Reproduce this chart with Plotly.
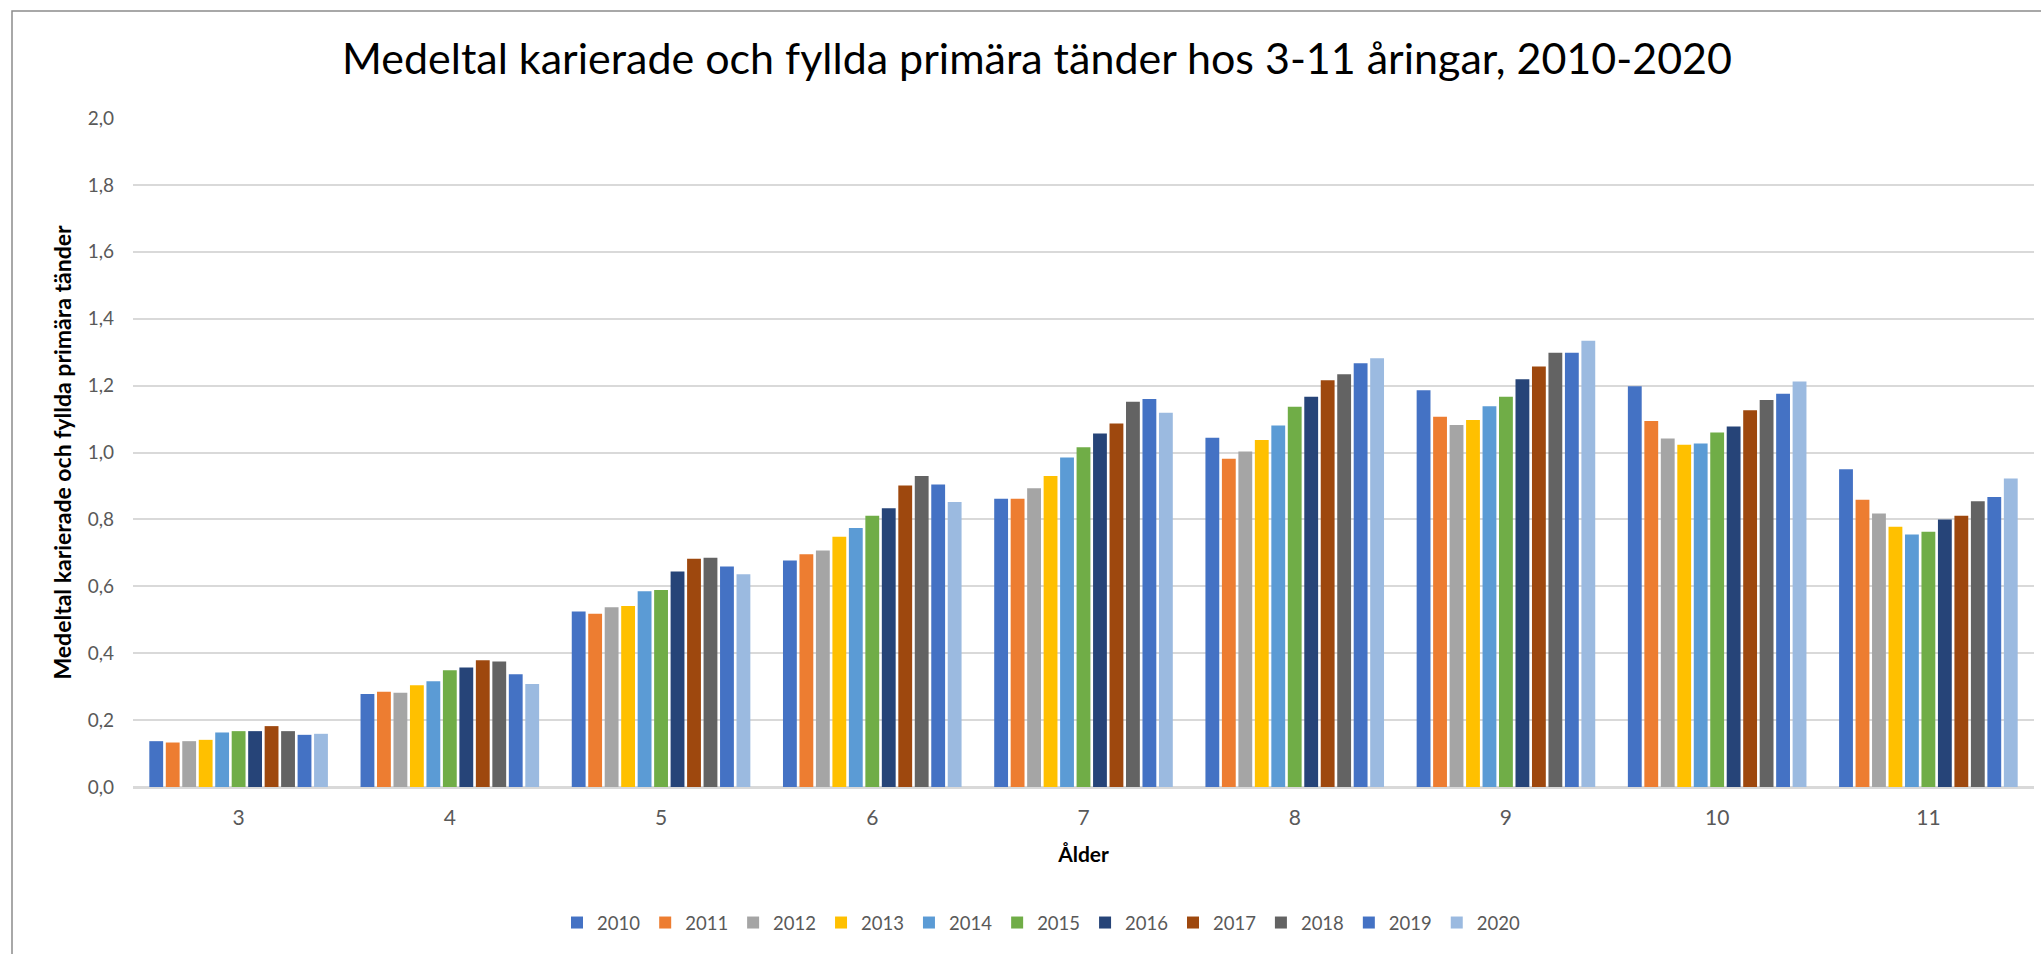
import plotly.graph_objects as go

# ---------------- data ----------------
ages = ["3", "4", "5", "6", "7", "8", "9", "10", "11"]
years = ["2010", "2011", "2012", "2013", "2014", "2015", "2016", "2017", "2018", "2019", "2020"]

v2010 = [0.137, 0.278, 0.525, 0.677, 0.862, 1.044, 1.186, 1.198, 0.950]
v2011 = [0.133, 0.285, 0.518, 0.696, 0.862, 0.981, 1.107, 1.094, 0.859]
v2012 = [0.137, 0.282, 0.537, 0.707, 0.893, 1.003, 1.082, 1.042, 0.818]
v2013 = [0.141, 0.304, 0.541, 0.748, 0.930, 1.037, 1.097, 1.023, 0.778]
v2014 = [0.163, 0.316, 0.585, 0.774, 0.985, 1.081, 1.138, 1.027, 0.755]
v2015 = [0.167, 0.349, 0.589, 0.811, 1.016, 1.137, 1.167, 1.060, 0.763]
v2016 = [0.167, 0.357, 0.644, 0.833, 1.057, 1.167, 1.219, 1.078, 0.800]
v2017 = [0.182, 0.379, 0.682, 0.901, 1.087, 1.216, 1.257, 1.126, 0.811]
v2018 = [0.167, 0.375, 0.685, 0.930, 1.152, 1.234, 1.298, 1.157, 0.854]
v2019 = [0.156, 0.337, 0.659, 0.904, 1.160, 1.267, 1.298, 1.176, 0.867]
v2020 = [0.159, 0.308, 0.636, 0.852, 1.119, 1.282, 1.334, 1.212, 0.922]

series = [v2010, v2011, v2012, v2013, v2014, v2015, v2016, v2017, v2018, v2019, v2020]

colors = ["#4472C4", "#ED7D31", "#A5A5A5", "#FFC000", "#5B9BD5", "#70AD47",
          "#264478", "#9E480E", "#636363", "#4472C4", "#9BBAE0"]

title_text = "Medeltal karierade och fyllda primära tänder hos 3-11 åringar, 2010-2020"
y_title = "Medeltal karierade och fyllda primära tänder"
x_title = "Ålder"
y_ticks = [0.0, 0.2, 0.4, 0.6, 0.8, 1.0, 1.2, 1.4, 1.6, 1.8, 2.0]

# ---------------- layout geometry (pixels) ----------------
W, H = 2041, 954
L, R, T, B = 133, 7, 118, 167
PW, PH = W - L - R, H - T - B

def px_x(x):
    return (x - L) / PW

def px_y(y):
    return 1 - (y - T) / PH

FONT = "Lato, 'Open Sans', Arial, sans-serif"

fig = go.Figure()
for name, vals, col in zip(years, series, colors):
    fig.add_trace(go.Bar(
        x=ages, y=vals, name=name,
        marker=dict(color=col, line=dict(width=0)),
    ))

fig.update_layout(
    width=W, height=H,
    margin=dict(l=L, r=R, t=T, b=B),
    paper_bgcolor="white",
    plot_bgcolor="white",
    barmode="group",
    bargap=0.142,
    bargroupgap=0.16,
    separators=", ",
    font=dict(family=FONT, color="#595959", size=20),
    title=dict(
        text=title_text,
        xref="container", x=1037 / W, xanchor="center",
        yref="container", y=1 - 59 / H, yanchor="middle",
        font=dict(family=FONT, size=43, color="#000000"),
    ),
    showlegend=True,
    legend=dict(
        orientation="h",
        x=px_x(1041), xanchor="center",
        y=px_y(923), yanchor="middle",
        font=dict(family=FONT, size=18.5, color="#595959"),
        traceorder="normal",
        bgcolor="rgba(0,0,0,0)",
    ),
    xaxis=dict(
        showgrid=False,
        showline=True, linecolor="#D9D9D9", linewidth=2,
        ticks="", ticklabelstandoff=11,
        tickfont=dict(family=FONT, size=21, color="#595959"),
        title=dict(text="<b>" + x_title + "</b>", standoff=19,
                   font=dict(family=FONT, size=21, color="#000000")),
    ),
    yaxis=dict(
        range=[0, 2.0],
        tickvals=y_ticks,
        tickformat=".1f",
        showgrid=True, gridcolor="#D9D9D9", gridwidth=2,
        zeroline=True, zerolinecolor="#D9D9D9", zerolinewidth=2,
        showline=False,
        ticks="", ticklabelstandoff=18,
        tickfont=dict(family=FONT, size=19, color="#595959"),
        title=dict(text="<b>" + y_title + "</b>", standoff=9,
                   font=dict(family=FONT, size=23, color="#000000")),
    ),
)

# chart-area border (extends past the window on right and bottom, as in the reference)
fig.add_shape(
    type="rect", xref="paper", yref="paper",
    x0=px_x(12), x1=px_x(W + 10), y0=px_y(H + 10), y1=px_y(11),
    line=dict(color="#8C8C8C", width=1.5), fillcolor="rgba(0,0,0,0)", layer="below",
)

fig.write_html("out.html", config={"displayModeBar": False},
               post_script="document.body.style.margin='0';")
